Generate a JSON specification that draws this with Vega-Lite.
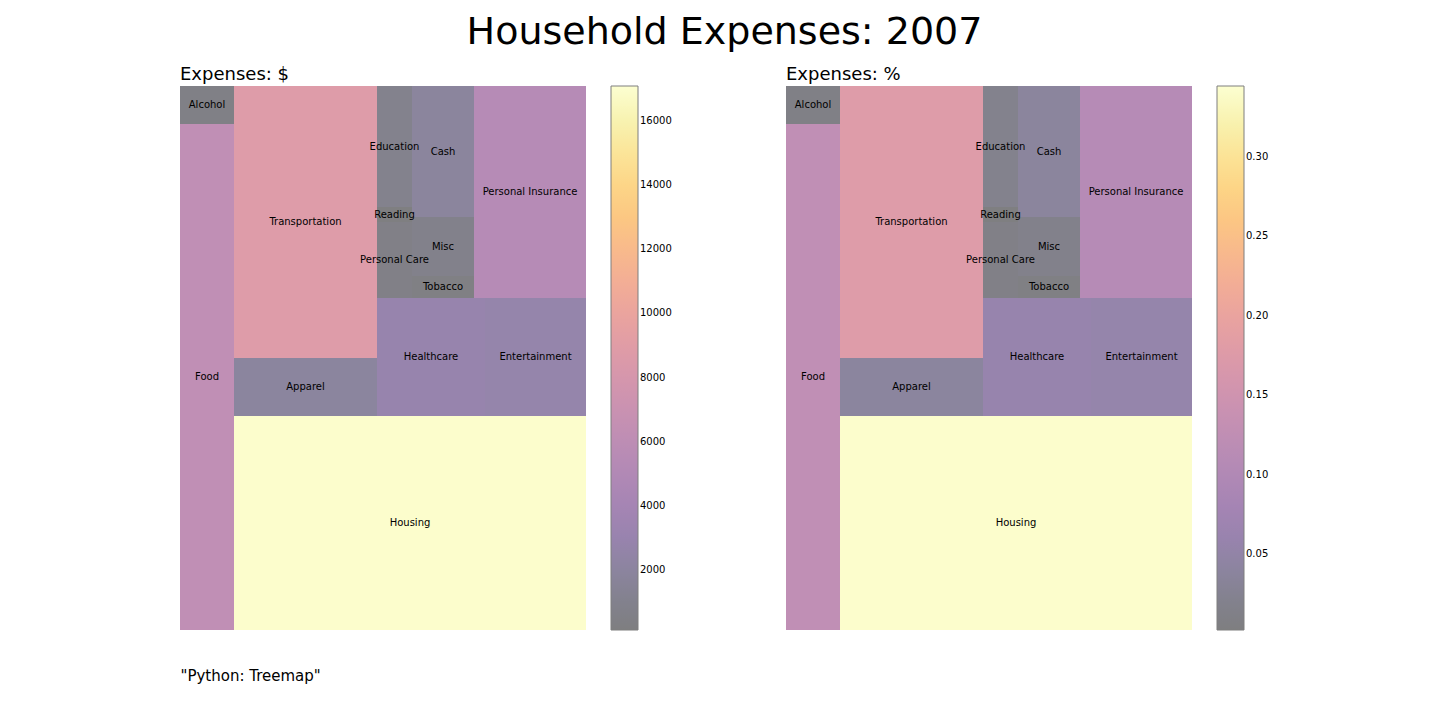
{
  "$schema": "https://vega.github.io/schema/vega-lite/v6.json",
  "background": "white",
  "padding": {"left": 180, "top": 14, "right": 10, "bottom": 10},
  "title": {"text": "Household Expenses: 2007", "fontSize": 38, "font": "DejaVu Sans", "fontWeight": "normal", "anchor": "middle", "offset": 14},
  "data": {"values": [
    {"cat": "Alcohol", "usd": 457, "pct": 0.0092, "x0": 0, "x1": 54, "y0": 0, "y1": 38},
    {"cat": "Food", "usd": 6133, "pct": 0.1236, "x0": 0, "x1": 54, "y0": 38, "y1": 544},
    {"cat": "Transportation", "usd": 8758, "pct": 0.1764, "x0": 54, "x1": 197, "y0": 0, "y1": 272},
    {"cat": "Apparel", "usd": 1881, "pct": 0.0379, "x0": 54, "x1": 197, "y0": 272, "y1": 330},
    {"cat": "Housing", "usd": 16920, "pct": 0.3409, "x0": 54, "x1": 406, "y0": 330, "y1": 544},
    {"cat": "Education", "usd": 945, "pct": 0.019, "x0": 197, "x1": 232, "y0": 0, "y1": 121},
    {"cat": "Reading", "usd": 118, "pct": 0.0024, "x0": 197, "x1": 232, "y0": 121, "y1": 136},
    {"cat": "Personal Care", "usd": 588, "pct": 0.0118, "x0": 197, "x1": 232, "y0": 136, "y1": 212},
    {"cat": "Cash", "usd": 1821, "pct": 0.0367, "x0": 232, "x1": 294, "y0": 0, "y1": 131},
    {"cat": "Misc", "usd": 808, "pct": 0.0163, "x0": 232, "x1": 294, "y0": 131, "y1": 190},
    {"cat": "Tobacco", "usd": 323, "pct": 0.0065, "x0": 232, "x1": 294, "y0": 190, "y1": 212},
    {"cat": "Personal Insurance", "usd": 5336, "pct": 0.1075, "x0": 294, "x1": 406, "y0": 0, "y1": 212},
    {"cat": "Healthcare", "usd": 2853, "pct": 0.0575, "x0": 197, "x1": 305, "y0": 212, "y1": 330},
    {"cat": "Entertainment", "usd": 2698, "pct": 0.0544, "x0": 305, "x1": 406, "y0": 212, "y1": 330}
  ]},
  "transform": [
    {"calculate": "(datum.x0 + datum.x1) / 2", "as": "cx"},
    {"calculate": "(datum.y0 + datum.y1) / 2", "as": "cy"}
  ],
  "spacing": 114,
  "resolve": {"scale": {"color": "independent"}},
  "hconcat": [
    {
      "width": 406, "height": 544,
      "title": {"text": "Expenses: $", "anchor": "start", "fontSize": 18, "font": "DejaVu Sans", "fontWeight": "normal", "offset": 2},
      "layer": [
        {
          "mark": {"type": "rect", "opacity": 0.5},
          "encoding": {
            "x": {"field": "x0", "type": "quantitative", "scale": {"domain": [0, 406], "nice": false},
              "axis": {"title": "\"Python: Treemap\"", "domain": false, "ticks": false, "labels": false, "grid": false, "titleAnchor": "start", "titleFontSize": 15, "titleFontWeight": "normal", "titleFont": "DejaVu Sans", "titlePadding": 38}},
            "x2": {"field": "x1"},
            "y": {"field": "y0", "type": "quantitative", "scale": {"domain": [0, 544], "reverse": true, "nice": false}, "axis": null},
            "y2": {"field": "y1"},
            "color": {"field": "usd", "type": "quantitative", "scale": {"scheme": "inferno", "domain": [118, 17100]},
              "legend": {"title": null, "gradientLength": 544, "gradientThickness": 27, "offset": 25, "values": [2000, 4000, 6000, 8000, 10000, 12000, 14000, 16000], "format": "d", "labelFontSize": 10, "labelFont": "DejaVu Sans", "gradientStrokeColor": "black", "gradientStrokeWidth": 1,
                "encode": {"gradient": {"update": {"opacity": {"value": 1}}}}}}
          }
        },
        {
          "mark": {"type": "text", "fontSize": 10, "font": "DejaVu Sans", "color": "black"},
          "encoding": {
            "x": {"field": "cx", "type": "quantitative"},
            "y": {"field": "cy", "type": "quantitative"},
            "text": {"field": "cat"}
          }
        }
      ]
    },
    {
      "width": 406, "height": 544,
      "title": {"text": "Expenses: %", "anchor": "start", "fontSize": 18, "font": "DejaVu Sans", "fontWeight": "normal", "offset": 2},
      "layer": [
        {
          "mark": {"type": "rect", "opacity": 0.5},
          "encoding": {
            "x": {"field": "x0", "type": "quantitative", "scale": {"domain": [0, 406], "nice": false}, "axis": null},
            "x2": {"field": "x1"},
            "y": {"field": "y0", "type": "quantitative", "scale": {"domain": [0, 544], "reverse": true, "nice": false}, "axis": null},
            "y2": {"field": "y1"},
            "color": {"field": "pct", "type": "quantitative", "scale": {"scheme": "inferno", "domain": [0.0024, 0.3445]},
              "legend": {"title": null, "gradientLength": 544, "gradientThickness": 27, "offset": 25, "values": [0.05, 0.1, 0.15, 0.2, 0.25, 0.3], "format": ".2f", "labelFontSize": 10, "labelFont": "DejaVu Sans", "gradientStrokeColor": "black", "gradientStrokeWidth": 1,
                "encode": {"gradient": {"update": {"opacity": {"value": 1}}}}}}
          }
        },
        {
          "mark": {"type": "text", "fontSize": 10, "font": "DejaVu Sans", "color": "black"},
          "encoding": {
            "x": {"field": "cx", "type": "quantitative"},
            "y": {"field": "cy", "type": "quantitative"},
            "text": {"field": "cat"}
          }
        }
      ]
    }
  ],
  "config": {"view": {"stroke": null}}
}
